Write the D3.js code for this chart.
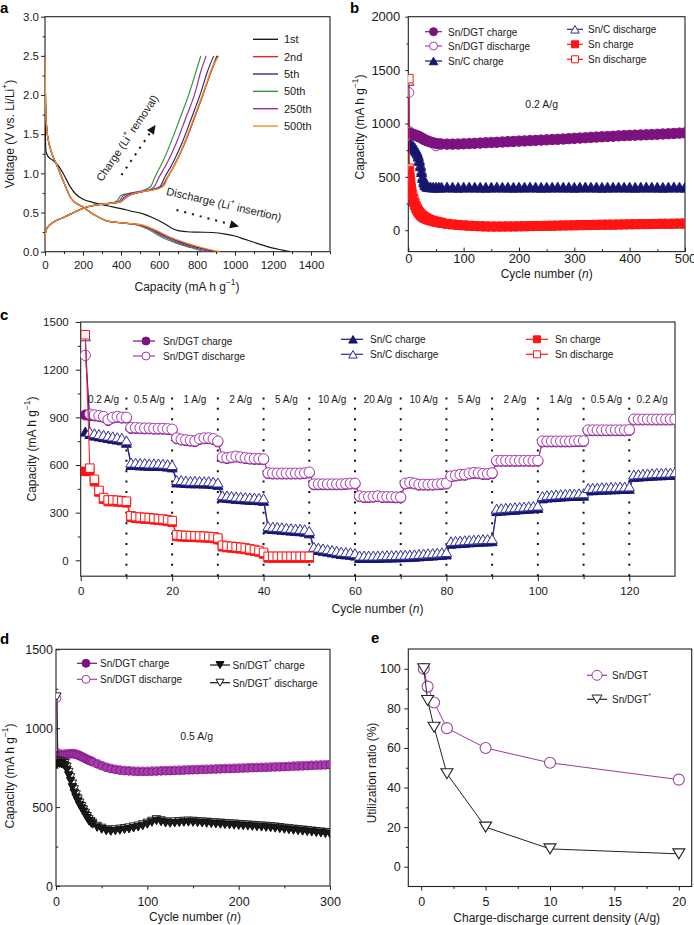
<!DOCTYPE html>
<html><head><meta charset="utf-8">
<script src="https://cdn.jsdelivr.net/npm/d3@7"></script>
<style>body{margin:0;background:#fff}</style>
</head><body><svg id="c" width="694" height="925" xmlns="http://www.w3.org/2000/svg"></svg>
<script>
// ---------------- DATA ----------------
// Panel a: galvanostatic profiles [capacity, voltage]
const aLabels = ["1st","2nd","5th","50th","250th","500th"];
const aColors = ["#1a1a1a","#e3261f","#2b2b8f","#2f9a35","#9a2d9f","#f5921e"];
const dis1st  = [[0,1.95],[2,1.5],[5,1.28],[15,1.22],[40,1.17],[70,1.1],[100,0.98],[130,0.84],[160,0.74],[200,0.67],[250,0.63],[300,0.6],[350,0.575],[400,0.55],[450,0.52],[520,0.48],[570,0.43],[620,0.37],[660,0.31],[700,0.27],[750,0.255],[800,0.25],[880,0.245],[950,0.225],[1000,0.2],[1050,0.16],[1100,0.12],[1150,0.08],[1200,0.045],[1250,0.02],[1290,0]];
const dis2nd  = [[0,2.5],[3,1.9],[10,1.55],[30,1.3],[60,1.12],[100,0.88],[140,0.67],[200,0.57],[260,0.47],[330,0.39],[420,0.365],[500,0.345],[565,0.29],[650,0.19],[735,0.11],[820,0.05],[900,0]];
const dis5th  = [[0,2.5],[3,1.9],[10,1.55],[30,1.3],[60,1.12],[100,0.88],[140,0.67],[200,0.57],[260,0.47],[330,0.39],[420,0.365],[500,0.34],[560,0.29],[640,0.19],[725,0.11],[808,0.05],[885,0]];
const dis50th = [[0,2.5],[3,1.9],[10,1.55],[30,1.3],[60,1.12],[100,0.88],[140,0.67],[200,0.57],[260,0.47],[330,0.39],[420,0.365],[490,0.34],[540,0.29],[610,0.19],[690,0.11],[770,0.05],[840,0]];
const dis250th= [[0,2.5],[3,1.9],[10,1.55],[30,1.3],[60,1.12],[100,0.88],[140,0.67],[200,0.57],[260,0.47],[330,0.39],[420,0.365],[495,0.34],[550,0.29],[625,0.19],[705,0.11],[785,0.05],[865,0]];
const dis500th= [[0,2.5],[3,1.9],[10,1.55],[30,1.3],[60,1.12],[100,0.88],[140,0.67],[200,0.57],[260,0.47],[330,0.39],[420,0.365],[505,0.345],[570,0.29],[655,0.19],[745,0.11],[830,0.05],[920,0]];
const chg1st  = [[0,0.12],[1,0.22],[10,0.3],[40,0.37],[100,0.44],[160,0.51],[220,0.57],[280,0.6],[350,0.62],[400,0.64],[425,0.69],[455,0.73],[520,0.77],[580,0.8],[615,0.83],[640,0.93],[680,1.1],[730,1.36],[780,1.67],[830,2.0],[870,2.28],[905,2.5]];
const chg2nd  = [[0,0.12],[1,0.22],[10,0.3],[40,0.37],[100,0.44],[160,0.51],[220,0.57],[280,0.6],[350,0.62],[400,0.64],[425,0.69],[455,0.73],[520,0.77],[585,0.8],[620,0.84],[645,0.95],[685,1.12],[735,1.38],[785,1.7],[835,2.03],[875,2.3],[910,2.5]];
const chg5th  = [[0,0.12],[1,0.22],[10,0.3],[40,0.37],[100,0.44],[160,0.51],[220,0.57],[280,0.6],[350,0.62],[395,0.64],[420,0.7],[450,0.735],[515,0.77],[575,0.8],[605,0.83],[630,0.95],[670,1.12],[720,1.38],[770,1.7],[820,2.03],[855,2.3],[888,2.5]];
const chg50th = [[0,0.12],[1,0.22],[10,0.3],[40,0.37],[100,0.44],[160,0.51],[220,0.57],[280,0.6],[350,0.62],[380,0.65],[400,0.72],[430,0.74],[500,0.77],[555,0.83],[580,0.96],[620,1.15],[660,1.38],[710,1.7],[760,2.03],[795,2.3],[820,2.5]];
const chg250th= [[0,0.12],[1,0.22],[10,0.3],[40,0.37],[100,0.44],[160,0.51],[220,0.57],[280,0.6],[350,0.62],[390,0.645],[410,0.71],[440,0.74],[505,0.77],[560,0.8],[575,0.83],[600,0.95],[640,1.12],[690,1.38],[740,1.7],[790,2.03],[820,2.3],[848,2.5]];
const chg500th= [[0,0.12],[1,0.22],[10,0.3],[40,0.37],[100,0.44],[160,0.51],[220,0.57],[280,0.6],[350,0.62],[400,0.64],[425,0.69],[455,0.73],[520,0.77],[590,0.8],[625,0.84],[650,0.97],[690,1.14],[740,1.43],[790,1.75],[840,2.08],[880,2.35],[915,2.5]];

// Panel b: long cycling at 0.2 A/g
const bCycles = [1,2,3,4,5,6,8,10,12,14,16,18,20,22,24,26,28,30,33,36,40,45,50,55,60,70,80,90,100,110,120,130,140,150,160,170,180,190,200,210,220,230,240,250,260,270,280,290,300,310,320,330,340,350,360,370,380,390,400,410,420,430,440,450,460,470,480,490,500];
const bDgtCharge    = [880,905,905,900,900,898,896,893,890,886,882,878,874,868,862,856,850,845,838,832,825,818,812,808,806,805,805,806,808,810,812,815,818,820,822,825,828,830,833,835,838,840,843,845,848,850,853,856,859,862,865,868,871,874,876,879,882,885,887,889,891,893,895,897,900,902,905,908,910];
const bDgtDischarge = [1290,925,912,906,904,902,900,897,894,890,886,882,878,872,866,860,854,849,842,836,829,822,790,812,810,809,809,810,812,814,816,819,822,824,826,829,832,834,837,839,842,844,847,849,852,854,857,860,863,866,869,872,875,878,880,883,886,889,891,893,895,897,899,901,904,906,909,912,915];
const bSnCCharge    = [790,800,800,798,795,790,782,770,755,740,720,690,650,600,545,490,450,425,410,405,402,400,400,400,400,401,400,399,400,401,400,400,399,400,401,400,400,399,400,400,401,400,399,400,400,401,400,400,399,400,401,400,400,399,400,400,401,400,400,399,400,401,400,400,399,400,401,400,400];
const bSnCDischarge = [1400,830,820,815,810,805,797,785,770,755,735,705,665,615,560,505,465,438,420,414,410,408,408,408,408,409,408,407,408,409,408,408,407,408,409,408,408,407,408,408,409,408,407,408,408,409,408,408,407,408,409,408,408,407,408,408,409,408,408,407,408,409,408,408,407,408,409,408,408];
const bSnCharge     = [560,520,470,420,380,350,300,262,232,205,185,168,155,143,133,125,118,112,105,98,90,83,77,72,67,58,52,47,43,40,37,35,33,32,32,32,33,33,34,35,36,37,38,39,40,41,42,43,44,45,46,47,48,49,50,50,51,52,53,54,55,55,56,57,58,58,59,60,60];
const bSnDischarge  = [1420,580,500,450,400,370,330,290,255,225,202,185,170,157,146,137,129,122,114,106,98,90,83,77,72,63,57,52,48,45,42,40,38,37,37,37,38,38,39,40,41,42,43,44,45,46,47,48,49,50,51,52,53,54,55,55,56,57,58,59,60,60,61,62,63,63,64,65,65];

// Panel c: rate capability, cycles 1..130
const cRates = ["0.2 A/g","0.5 A/g","1 A/g","2 A/g","5 A/g","10 A/g","20 A/g","10 A/g","5 A/g","2 A/g","1 A/g","0.5 A/g","0.2 A/g"];
const cDgtDischarge = [1290,920,915,910,905,885,900,905,900,900,
835,835,833,832,832,830,830,830,828,825,
770,762,758,755,752,765,770,770,765,750,
650,645,650,655,650,645,642,640,640,638,
550,548,548,548,548,548,548,548,550,555,
480,480,480,480,480,480,480,482,485,485,
405,400,400,402,405,400,400,400,398,398,
485,490,485,478,478,478,478,480,482,485,
530,535,540,540,548,552,550,545,545,550,
628,628,628,628,628,628,628,628,628,628,
750,750,750,750,750,750,750,752,752,752,
820,820,820,820,820,820,820,820,820,822,
888,888,888,888,888,888,888,888,888,888];
const cDgtCharge = [915,910,908,905,900,880,895,900,895,895,
830,830,828,827,827,825,825,825,823,820,
765,757,753,750,747,760,765,765,760,745,
645,640,645,650,645,640,637,635,635,633,
545,543,543,543,543,543,543,543,545,550,
475,475,475,475,475,475,475,477,480,480,
400,395,395,397,400,395,395,395,393,393,
480,485,480,473,473,473,473,475,477,480,
525,530,535,535,543,547,545,540,540,545,
623,623,623,623,623,623,623,623,623,623,
745,745,745,745,745,745,745,747,747,747,
815,815,815,815,815,815,815,815,815,817,
883,883,883,883,883,883,883,883,883,883];
const cSnCDischarge = [1410,810,800,795,790,785,780,775,770,755,
615,615,612,612,610,610,610,608,605,600,
505,505,502,500,500,500,498,498,495,490,
410,408,405,402,400,398,396,395,393,390,
215,212,210,208,205,202,200,198,195,185,
85,80,75,70,65,60,55,52,50,45,
30,30,30,30,30,32,32,33,33,35,
35,36,38,40,42,44,45,48,50,52,
120,122,124,126,128,130,132,133,134,135,
325,328,330,332,334,336,338,340,342,345,
405,410,412,414,416,418,420,420,422,422,
455,456,458,460,460,462,462,464,464,465,
540,542,544,546,548,550,550,552,552,555];
const cSnCCharge = [810,795,785,780,775,770,765,760,755,740,
600,600,597,597,595,595,595,593,590,585,
490,490,487,485,485,485,483,483,480,475,
395,393,390,387,385,383,381,380,378,375,
200,197,195,193,190,187,185,183,180,170,
70,65,60,55,50,45,40,37,35,30,
15,15,15,15,15,17,17,18,18,20,
20,21,23,25,27,29,30,33,35,37,
105,107,109,111,113,115,117,118,119,120,
310,313,315,317,319,321,323,325,327,330,
390,395,397,399,401,403,405,405,407,407,
440,441,443,445,445,447,447,449,449,450,
525,527,529,531,533,535,535,537,537,540];
const cSnDischarge = [1420,580,510,440,395,380,380,378,375,372,
280,275,272,270,268,265,262,260,255,250,
160,158,156,155,154,153,152,150,148,140,
95,90,88,85,82,78,72,68,62,50,
25,25,25,25,25,25,25,25,25,25];
const cSnCharge = [560,560,495,430,385,370,370,368,365,362,
270,265,262,260,258,255,252,250,245,240,
150,148,146,145,144,143,142,140,138,130,
85,80,78,75,72,68,62,58,52,40,
15,15,15,15,15,15,15,15,15,15];

// Panel d: cycling at 0.5 A/g
const dCycles = [1,2,3,4,6,8,10,12,14,16,18,20,22,24,26,28,30,32,34,36,38,40,45,50,55,60,65,70,75,80,85,90,95,100,105,110,115,120,125,130,135,140,145,150,155,160,165,170,175,180,185,190,195,200,205,210,215,220,225,230,235,240,245,250,255,260,265,270,275,280,285,290,295,300];
const dDgtCharge    = [800,825,828,830,830,830,832,833,835,836,836,835,832,828,823,818,812,806,800,795,790,785,772,760,750,742,736,732,729,727,725,724,724,724,725,726,727,728,729,730,731,732,733,734,735,736,737,738,739,740,741,742,743,744,745,746,747,748,749,750,751,752,753,754,755,757,758,759,760,762,763,764,765,767];
const dDgtDischarge = [1190,845,840,838,836,836,838,839,841,842,842,841,838,834,829,824,818,812,806,801,796,791,778,766,756,748,742,738,735,733,731,730,730,730,731,732,733,734,735,736,737,738,739,740,741,742,743,744,745,746,747,748,749,750,751,752,753,754,755,756,757,758,759,760,761,763,764,765,766,768,769,770,771,773];
const dStarCharge    = [770,780,778,775,772,768,760,735,700,665,625,590,560,535,510,490,470,450,430,410,400,390,370,358,348,345,348,352,356,360,366,372,380,390,402,412,405,398,396,398,400,402,403,402,400,398,396,394,392,390,388,386,384,382,380,378,376,374,372,370,368,365,362,358,355,352,349,346,343,340,337,334,331,328];
const dStarDischarge = [1200,795,792,790,787,783,778,755,722,688,648,612,580,553,527,505,484,463,442,422,410,400,380,368,358,355,358,362,366,370,376,382,390,400,412,422,415,408,406,408,410,412,413,412,410,408,406,404,402,400,398,396,394,392,390,388,386,384,382,380,378,375,372,368,365,362,359,356,353,350,347,344,341,338];

// Panel e: utilization ratio
const eRate = [0.2,0.5,1,2,5,10,20];
const eDgt  = [100,91,83,70,60,52.5,44];
const eStar = [100,84,70.5,47,20,9,6.5];

// ---------------- DRAWING ----------------
const FONT = "'Liberation Sans', Arial, Helvetica, sans-serif";
const svg = d3.select("#c").style("font-family", FONT);
const PURPLE = "#7c127f", PURPLE_O = "#a83cac", NAVY = "#16166f", NAVY_O = "#2e2e96", RED = "#ff1414";

function panel(o) {
  const x = d3.scaleLinear().domain(o.xd).range([o.l, o.r]);
  const y = d3.scaleLinear().domain(o.yd).range([o.b, o.t]);
  const g = svg.append("g");
  const fs = o.fs || 12;
  const style = a => { a.select(".domain").remove(); a.selectAll("line").attr("stroke", "#222").attr("stroke-width", 1);
    a.selectAll("text").attr("font-size", fs).attr("fill", "#1a1a1a").attr("font-family", FONT); };
  g.append("g").attr("transform", `translate(0,${o.b})`)
    .call(d3.axisBottom(x).tickValues(o.xt).tickFormat(o.xf || d3.format("d")).tickSizeInner(o.xT).tickSizeOuter(0).tickPadding(o.xP)).call(style);
  g.append("g").attr("transform", `translate(0,${o.b})`)
    .call(d3.axisBottom(x).tickValues(o.xm).tickFormat("").tickSizeInner(o.xT * 0.6).tickSizeOuter(0)).call(style);
  g.append("g").attr("transform", `translate(${o.l},0)`)
    .call(d3.axisLeft(y).tickValues(o.yt).tickFormat(o.yf || d3.format("d")).tickSizeInner(o.yT).tickSizeOuter(0).tickPadding(o.yP)).call(style);
  g.append("g").attr("transform", `translate(${o.l},0)`)
    .call(d3.axisLeft(y).tickValues(o.ym).tickFormat("").tickSizeInner(o.yT * 0.6).tickSizeOuter(0)).call(style);
  g.append("rect").attr("x", o.l).attr("y", o.t).attr("width", o.r - o.l).attr("height", o.b - o.t)
    .attr("fill", "none").attr("stroke", "#222").attr("stroke-width", 1.1);
  const cid = "clip_" + o.name;
  svg.append("clipPath").attr("id", cid).append("rect").attr("x", o.l).attr("y", o.t).attr("width", o.r - o.l).attr("height", o.b - o.t);
  const data = g.append("g").attr("clip-path", `url(#${cid})`);
  svg.append("text").attr("x", o.lx).attr("y", o.ly).text(o.name).attr("font-weight", "bold").attr("font-size", 15).attr("fill", "#000");
  return {x, y, g, data};
}

function axisTitleX(p, cx, cy, parts, fs) {
  const t = svg.append("text").attr("x", cx).attr("y", cy).attr("text-anchor", "middle").attr("dominant-baseline", "central")
    .attr("font-size", fs || 12).attr("fill", "#1a1a1a");
  parts.forEach(pt => { const s = t.append("tspan").text(pt.t);
    if (pt.sup) s.attr("baseline-shift", "super").attr("font-size", (fs || 12) * 0.7);
    if (pt.it) s.attr("font-style", "italic"); });
  return t;
}
function axisTitleY(cx, cy, parts, fs) {
  const t = axisTitleX(null, 0, 0, parts, fs);
  t.attr("x", 0).attr("y", 0).attr("transform", `translate(${cx},${cy}) rotate(-90)`);
  return t;
}

function markerPath(type, w, h) {
  if (type === "triUp") return `M${-w/2},${h/2}L${w/2},${h/2}L0,${-h/2}Z`;
  if (type === "triDown") return `M${-w/2},${-h/2}L${w/2},${-h/2}L0,${h/2}Z`;
  if (type === "square") return `M${-w/2},${-w/2}h${w}v${w}h${-w}Z`;
  return "";
}
function drawMarkers(g, pts, o) {
  pts.forEach(([px, py]) => {
    if (o.type === "circle") g.append("circle").attr("cx", px).attr("cy", py).attr("r", o.r)
      .attr("fill", o.fill).attr("stroke", o.stroke).attr("stroke-width", o.sw || 1);
    else g.append("path").attr("d", markerPath(o.type, o.w, o.h || o.w)).attr("transform", `translate(${px},${py})`)
      .attr("fill", o.fill).attr("stroke", o.stroke).attr("stroke-width", o.sw || 1);
  });
}
function series(p, xs, ys, o) {
  const pts = xs.map((v, i) => [p.x(v), p.y(ys[i])]);
  const gg = p.data.append("g");
  if (o.line) gg.append("path").attr("d", d3.line()(pts)).attr("fill", "none").attr("stroke", o.line).attr("stroke-width", o.lw || 1);
  drawMarkers(gg, pts, o);
}
function legendItem(x0, x1, xm, y, xt, label, o, fs) {
  svg.append("line").attr("x1", x0).attr("x2", x1).attr("y1", y).attr("y2", y).attr("stroke", o.line).attr("stroke-width", 1.2);
  drawMarkers(svg.append("g"), [[xm, y]], o);
  const t = svg.append("text").attr("x", xt).attr("y", y).attr("dominant-baseline", "central").attr("font-size", fs || 10).attr("fill", "#1a1a1a");
  label.forEach(pt => { const s = t.append("tspan").text(pt.t); if (pt.sup) s.attr("baseline-shift", "super").attr("font-size", (fs || 10) * 0.7); });
}
const seq = (a, b, s) => d3.range(a, b + s / 2, s);

// ===== Panel a =====
{
  const p = panel({name: "a", l: 45, r: 330, t: 16.7, b: 251.7, xd: [0, 1500], yd: [0, 3],
    xt: seq(0, 1400, 200), xm: seq(100, 1500, 200), yt: seq(0, 3, 0.5), ym: seq(0.25, 2.75, 0.5),
    yf: d3.format(".1f"), fs: 11.5, lx: 0, ly: 13, xT: 4, xP: 5, yT: 4, yP: 2});
  const dis = [dis1st, dis2nd, dis5th, dis50th, dis250th, dis500th];
  const chg = [chg1st, chg2nd, chg5th, chg50th, chg250th, chg500th];
  const line = d3.line().x(d => p.x(d[0])).y(d => p.y(d[1])).curve(d3.curveMonotoneX);
  dis.forEach((d, i) => p.data.append("path").attr("d", line(d)).attr("fill", "none").attr("stroke", aColors[i]).attr("stroke-width", 1.2));
  chg.forEach((d, i) => p.data.append("path").attr("d", line(d)).attr("fill", "none").attr("stroke", aColors[i]).attr("stroke-width", 1.2));
  aLabels.forEach((lab, i) => {
    const yy = 39.3 + i * 17.35;
    svg.append("line").attr("x1", 253).attr("x2", 278).attr("y1", yy).attr("y2", yy).attr("stroke", aColors[i]).attr("stroke-width", 1.4);
    svg.append("text").attr("x", 284).attr("y", yy).attr("dominant-baseline", "central").attr("font-size", 11).attr("fill", "#1a1a1a").text(lab);
  });
  function arrow(x0, y0, x1, y1) {
    const ang = Math.atan2(y1 - y0, x1 - x0), L = 9, W = 4.2;
    const bx = x1 - L * Math.cos(ang), by = y1 - L * Math.sin(ang);
    svg.append("line").attr("x1", x0).attr("y1", y0).attr("x2", bx).attr("y2", by).attr("stroke", "#111").attr("stroke-width", 2).attr("stroke-dasharray", "2,6");
    svg.append("path").attr("d", `M${x1},${y1}L${bx - W * Math.sin(ang)},${by + W * Math.cos(ang)}L${bx + W * Math.sin(ang)},${by - W * Math.cos(ang)}Z`).attr("fill", "#111");
  }
  arrow(121.5, 175, 155.5, 125);
  arrow(176.5, 210, 239, 226.5);
  const t1 = svg.append("text").attr("transform", "translate(127,138) rotate(-56)").attr("text-anchor", "middle").attr("dominant-baseline", "central").attr("font-size", 11).attr("fill", "#1a1a1a");
  t1.append("tspan").text("Charge (Li"); t1.append("tspan").text("+").attr("baseline-shift", "super").attr("font-size", 7.5); t1.append("tspan").text(" removal)");
  const t2 = svg.append("text").attr("transform", "translate(224,204) rotate(13)").attr("text-anchor", "middle").attr("dominant-baseline", "central").attr("font-size", 11).attr("fill", "#1a1a1a");
  t2.append("tspan").text("Discharge (Li"); t2.append("tspan").text("+").attr("baseline-shift", "super").attr("font-size", 7.5); t2.append("tspan").text(" insertion)");
  axisTitleX(p, 187, 287, [{t: "Capacity (mA h g"}, {t: "−1", sup: true}, {t: ")"}], 12);
  axisTitleY(10, 134, [{t: "Voltage (V vs. Li/Li"}, {t: "+", sup: true}, {t: ")"}], 12);
}

// ===== Panel b =====
{
  const p = panel({name: "b", l: 408.3, r: 685, t: 16.7, b: 251.6, xd: [0, 500], yd: [-200, 2000],
    xt: seq(0, 500, 100), xm: seq(50, 450, 100), yt: seq(0, 2000, 500), ym: seq(250, 1750, 500),
    fs: 13, lx: 350, ly: 13, xT: -4, xP: 2, yT: 3, yP: 5});
  series(p, bCycles, bDgtDischarge, {type: "circle", r: 5, fill: "#fff", stroke: PURPLE_O, line: PURPLE_O});
  series(p, bCycles, bDgtCharge, {type: "circle", r: 5, fill: PURPLE, stroke: PURPLE, line: PURPLE});
  series(p, bCycles, bSnCDischarge, {type: "triUp", w: 10, h: 9, fill: "#fff", stroke: NAVY_O, line: NAVY_O});
  series(p, bCycles, bSnCCharge, {type: "triUp", w: 10, h: 9, fill: NAVY, stroke: NAVY, line: NAVY});
  series(p, bCycles, bSnDischarge, {type: "square", w: 8.5, fill: "#fff", stroke: RED, line: RED});
  series(p, bCycles, bSnCharge, {type: "square", w: 8.5, fill: RED, stroke: RED, line: RED});
  legendItem(425, 442, 433.5, 31.7, 448, [{t: "Sn/DGT charge"}], {type: "circle", r: 4, fill: PURPLE, stroke: PURPLE, line: PURPLE}, 10);
  legendItem(425, 442, 433.5, 46, 448, [{t: "Sn/DGT discharge"}], {type: "circle", r: 4, fill: "#fff", stroke: PURPLE_O, line: PURPLE_O}, 10);
  legendItem(425, 442, 433.5, 61, 448, [{t: "Sn/C charge"}], {type: "triUp", w: 8.5, h: 7.5, fill: NAVY, stroke: NAVY, line: NAVY}, 10);
  legendItem(567, 583, 575, 29.3, 588, [{t: "Sn/C discharge"}], {type: "triUp", w: 8.5, h: 7.5, fill: "#fff", stroke: NAVY_O, line: NAVY_O}, 10);
  legendItem(567, 583, 575, 44.3, 588, [{t: "Sn charge"}], {type: "square", w: 7, fill: RED, stroke: RED, line: RED}, 10);
  legendItem(567, 583, 575, 59.3, 588, [{t: "Sn discharge"}], {type: "square", w: 7, fill: "#fff", stroke: RED, line: RED}, 10);
  svg.append("text").attr("x", 541.7).attr("y", 104).attr("text-anchor", "middle").attr("dominant-baseline", "central").attr("font-size", 10.5).attr("fill", "#1a1a1a").text("0.2 A/g");
  axisTitleX(p, 546.7, 274, [{t: "Cycle number ("}, {t: "n", it: true}, {t: ")"}], 12);
  axisTitleY(360, 127, [{t: "Capacity (mA h g"}, {t: "−1", sup: true}, {t: ")"}], 12);
}

// ===== Panel c =====
{
  const p = panel({name: "c", l: 80.7, r: 675, t: 322, b: 576.2, xd: [0, 130], yd: [-100, 1500],
    xt: seq(0, 120, 20), xm: seq(10, 110, 20), yt: seq(0, 1500, 300), ym: seq(150, 1350, 300),
    fs: 11.5, lx: 0, ly: 320, xT: 5, xP: 6, yT: 5, yP: 7});
  const cyc130 = d3.range(1, 131), cyc50 = d3.range(1, 51);
  const bounds = d3.range(1, 13).map(i => i * 10);
  bounds.forEach(b => p.data.append("line").attr("x1", p.x(b)).attr("x2", p.x(b)).attr("y1", p.y(-100)).attr("y2", p.y(1075))
    .attr("stroke", "#111").attr("stroke-width", 2).attr("stroke-dasharray", "2,8.4"));
  cRates.forEach((r, i) => svg.append("text").attr("x", p.x(i * 10 + 5)).attr("y", 399.5).attr("text-anchor", "middle")
    .attr("dominant-baseline", "central").attr("font-size", 10).attr("fill", "#1a1a1a").text(r));
  series(p, cyc130, cDgtCharge, {type: "circle", r: 5, fill: PURPLE, stroke: PURPLE, line: PURPLE});
  series(p, cyc130, cDgtDischarge, {type: "circle", r: 5.2, fill: "#fff", stroke: PURPLE_O, line: PURPLE_O});
  series(p, cyc130, cSnCCharge, {type: "triUp", w: 10, h: 9, fill: NAVY, stroke: NAVY, line: NAVY});
  series(p, cyc130, cSnCDischarge, {type: "triUp", w: 10.5, h: 9, fill: "#fff", stroke: NAVY_O, line: NAVY_O});
  series(p, cyc50, cSnCharge, {type: "square", w: 8.5, fill: RED, stroke: RED, line: RED});
  series(p, cyc50, cSnDischarge, {type: "square", w: 8.5, fill: "#fff", stroke: RED, line: RED});
  legendItem(133, 155, 146, 341, 163, [{t: "Sn/DGT charge"}], {type: "circle", r: 4, fill: PURPLE, stroke: PURPLE, line: PURPLE}, 10);
  legendItem(133, 155, 146, 356, 163, [{t: "Sn/DGT discharge"}], {type: "circle", r: 4, fill: "#fff", stroke: PURPLE_O, line: PURPLE_O}, 10);
  legendItem(341, 363, 353, 339.3, 370, [{t: "Sn/C charge"}], {type: "triUp", w: 8.5, h: 7.5, fill: NAVY, stroke: NAVY, line: NAVY}, 10);
  legendItem(341, 363, 353, 354.3, 370, [{t: "Sn/C discharge"}], {type: "triUp", w: 8.5, h: 7.5, fill: "#fff", stroke: NAVY_O, line: NAVY_O}, 10);
  legendItem(526, 548, 537, 339.3, 555, [{t: "Sn charge"}], {type: "square", w: 7, fill: RED, stroke: RED, line: RED}, 10);
  legendItem(526, 548, 537, 354.3, 555, [{t: "Sn discharge"}], {type: "square", w: 7, fill: "#fff", stroke: RED, line: RED}, 10);
  axisTitleX(p, 377.5, 609, [{t: "Cycle number ("}, {t: "n", it: true}, {t: ")"}], 12);
  axisTitleY(31.7, 449, [{t: "Capacity (mA h g"}, {t: "−1", sup: true}, {t: ")"}], 12);
}

// ===== Panel d =====
{
  const p = panel({name: "d", l: 56, r: 330, t: 649.3, b: 886, xd: [0, 300], yd: [0, 1500],
    xt: seq(0, 300, 100), xm: seq(50, 250, 100), yt: seq(0, 1500, 500), ym: seq(250, 1250, 500),
    fs: 12.5, lx: 0, ly: 644, xT: 4, xP: 7, yT: -4, yP: 3});
  series(p, dCycles, dDgtDischarge, {type: "circle", r: 4, fill: "#fff", stroke: PURPLE_O, line: PURPLE_O});
  series(p, dCycles, dDgtCharge, {type: "circle", r: 4, fill: PURPLE_O, stroke: PURPLE, line: PURPLE, sw: 0.8});
  series(p, dCycles, dStarDischarge, {type: "triDown", w: 8.5, h: 7.5, fill: "#fff", stroke: "#222", line: "#222"});
  series(p, dCycles, dStarCharge, {type: "triDown", w: 8.5, h: 7.5, fill: "#1a1a1a", stroke: "#111", line: "#111"});
  legendItem(77, 97, 86, 663.3, 100, [{t: "Sn/DGT charge"}], {type: "circle", r: 4, fill: PURPLE, stroke: PURPLE, line: PURPLE}, 10);
  legendItem(77, 97, 86, 679.3, 100, [{t: "Sn/DGT discharge"}], {type: "circle", r: 4, fill: "#fff", stroke: PURPLE_O, line: PURPLE_O}, 10);
  legendItem(210, 230, 220, 665, 232.5, [{t: "Sn/DGT"}, {t: "*", sup: true}, {t: " charge"}], {type: "triDown", w: 8, h: 7, fill: "#111", stroke: "#111", line: "#111"}, 10);
  legendItem(210, 230, 220, 682.7, 232.5, [{t: "Sn/DGT"}, {t: "*", sup: true}, {t: " discharge"}], {type: "triDown", w: 8, h: 7, fill: "#fff", stroke: "#111", line: "#111"}, 10);
  svg.append("text").attr("x", 196.7).attr("y", 736).attr("text-anchor", "middle").attr("dominant-baseline", "central").attr("font-size", 10.5).attr("fill", "#1a1a1a").text("0.5 A/g");
  axisTitleX(p, 195, 916.7, [{t: "Cycle number ("}, {t: "n", it: true}, {t: ")"}], 12);
  axisTitleY(10, 776, [{t: "Capacity (mA h g"}, {t: "−1", sup: true}, {t: ")"}], 12);
}

// ===== Panel e =====
{
  const p = panel({name: "e", l: 408.3, r: 691.7, t: 649, b: 886.5, xd: [-1, 21], yd: [-10, 110],
    xt: seq(0, 20, 5), xm: seq(2.5, 17.5, 5), yt: seq(0, 100, 20), ym: seq(10, 90, 20),
    fs: 12.5, lx: 371, ly: 643, xT: 4, xP: 6.5, yT: 4, yP: 3.5});
  series(p, eRate, eDgt, {type: "circle", r: 5.5, fill: "#fff", stroke: "#a040a6", line: "#9a3aa0", sw: 1.1});
  series(p, eRate, eStar, {type: "triDown", w: 12, h: 10, fill: "#fff", stroke: "#222", line: "#222", sw: 1.1});
  legendItem(587, 607, 597, 675.3, 612, [{t: "Sn/DGT"}], {type: "circle", r: 5, fill: "#fff", stroke: "#a040a6", line: "#9a3aa0"}, 10);
  legendItem(587, 607, 597, 699.3, 612, [{t: "Sn/DGT"}, {t: "*", sup: true}], {type: "triDown", w: 10, h: 8.5, fill: "#fff", stroke: "#222", line: "#222"}, 10);
  axisTitleX(p, 556.7, 918, [{t: "Charge-discharge current density (A/g)"}], 12);
  axisTitleY(371.7, 773, [{t: "Utilization ratio (%)"}], 12);
}
</script></body></html>
